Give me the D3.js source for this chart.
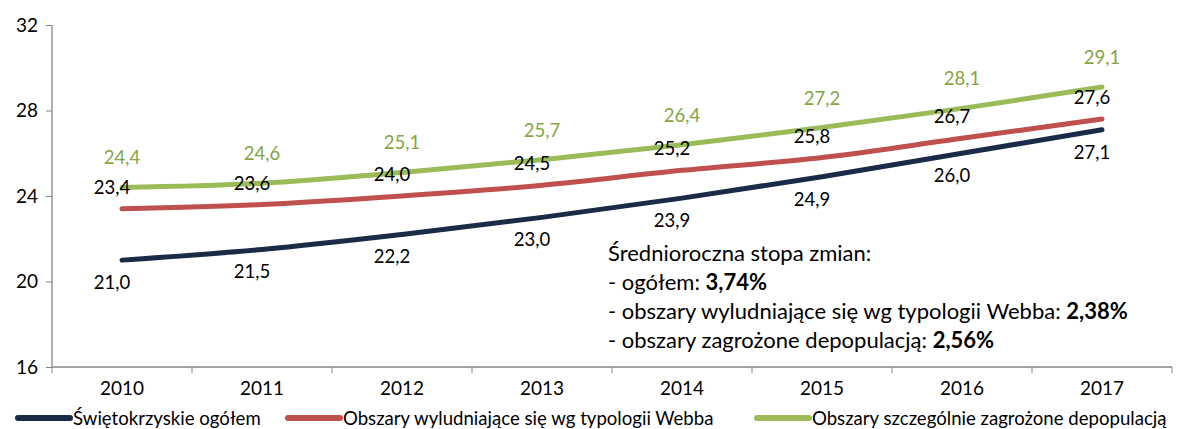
<!DOCTYPE html>
<html>
<head>
<meta charset="utf-8">
<script src="https://cdn.jsdelivr.net/npm/d3@7"></script>
<style>
  body { margin: 0; background: #fff; }
  svg text { font-family: Lato, "Open Sans", sans-serif; }
</style>
</head>
<body>
<svg id="chart"></svg>
<script>
// data
var years = ["2010", "2011", "2012", "2013", "2014", "2015", "2016", "2017"];
var ogolem = [21.0, 21.5, 22.2, 23.0, 23.9, 24.9, 26.0, 27.1];
var webba = [23.4, 23.6, 24.0, 24.5, 25.2, 25.8, 26.7, 27.6];
var zagrozone = [24.4, 24.6, 25.1, 25.7, 26.4, 27.2, 28.1, 29.1];
var yTicks = [16, 20, 24, 28, 32];
var seriesNames = ["Świętokrzyskie ogółem", "Obszary wyludniające się wg typologii Webba", "Obszary szczególnie zagrożone depopulacją"];
var noteLines = [
  ["Średnioroczna stopa zmian:", ""],
  ["- ogółem: ", "3,74%"],
  ["- obszary wyludniające się wg typologii Webba: ", "2,38%"],
  ["- obszary zagrożone depopulacją: ", "2,56%"]
];

var W = 1183, H = 429;
var margin = {top: 25, right: 11, bottom: 62, left: 52};
var width = W - margin.left - margin.right,
    height = H - margin.top - margin.bottom;

var svg = d3.select("#chart").attr("width", W).attr("height", H);
var g = svg.append("g").attr("transform", "translate(" + margin.left + "," + margin.top + ")");

var x = d3.scaleBand().domain(years).range([0, width]);
var y = d3.scaleLinear().domain([16, 32]).range([height, 0]);
var fmt = function(v) { return v.toFixed(1).replace(".", ","); };

// axes
var yAxis = g.append("g")
    .call(d3.axisLeft(y).tickValues(yTicks).tickSize(6).tickPadding(8));
var xAxis = g.append("g").attr("transform", "translate(0," + height + ")")
    .call(d3.axisBottom(x).tickSize(0).tickPadding(15));
// category boundary ticks
xAxis.selectAll(".bound")
    .data(d3.range(years.length + 1))
  .enter().append("line")
    .attr("x1", function(i) { return i * x.step(); })
    .attr("x2", function(i) { return i * x.step(); })
    .attr("y1", 0).attr("y2", 6)
    .attr("stroke", "#868686");
[yAxis, xAxis].forEach(function(a) {
  a.select(".domain").attr("stroke", "#868686").attr("stroke-width", 1.3);
  a.selectAll(".tick line").attr("stroke", "#868686");
  a.selectAll("text").attr("fill", "#000").style("font-size", "19px");
});
xAxis.select(".domain").attr("d", "M0,0H" + width);
yAxis.select(".domain").attr("d", "M0,0V" + height);

var series = [
  {name: seriesNames[0], values: ogolem, color: "#1b2a47", labelColor: "#000", dx: -10, dy: 29},
  {name: seriesNames[1], values: webba, color: "#c0504d", labelColor: "#000", dx: -10, dy: -15},
  {name: seriesNames[2], values: zagrozone, color: "#9bbb59", labelColor: "#84a545", dx: 0, dy: -23}
];

var line = d3.line()
    .x(function(d, i) { return x(years[i]) + x.bandwidth() / 2; })
    .y(function(d) { return y(d); })
    .curve(d3.curveCatmullRom.alpha(0.5));

series.forEach(function(s) {
  g.append("path")
      .attr("d", line(s.values))
      .attr("fill", "none")
      .attr("stroke", s.color)
      .attr("stroke-width", 5)
      .attr("stroke-linecap", "round");
});

series.forEach(function(s) {
  g.selectAll(null)
      .data(s.values)
    .enter().append("text")
      .attr("x", function(d, i) { return x(years[i]) + x.bandwidth() / 2 + s.dx; })
      .attr("y", function(d) { return y(d) + s.dy; })
      .attr("text-anchor", "middle")
      .attr("fill", s.labelColor)
      .style("font-size", "18.5px")
      .text(fmt);
});

// annotation
var note = g.append("text").attr("x", 556).attr("y", 236).style("font-size", "22px");
noteLines.forEach(function(l, i) {
  var t = note.append("tspan").attr("x", 556).attr("dy", i === 0 ? 0 : 29).text(l[0]);
  if (l[1]) note.append("tspan").style("font-weight", "bold").text(l[1]);
});

// legend
var legendX = [18, 288, 757];
var leg = svg.append("g").attr("transform", "translate(0,418)");
series.forEach(function(s, i) {
  leg.append("line")
      .attr("x1", legendX[i]).attr("x2", legendX[i] + 52)
      .attr("y1", 0).attr("y2", 0)
      .attr("stroke", s.color).attr("stroke-width", 6)
      .attr("stroke-linecap", "round");
  leg.append("text")
      .attr("x", legendX[i] + 55).attr("y", 7)
      .style("font-size", "18.6px")
      .text(s.name);
});
</script>
</body>
</html>
